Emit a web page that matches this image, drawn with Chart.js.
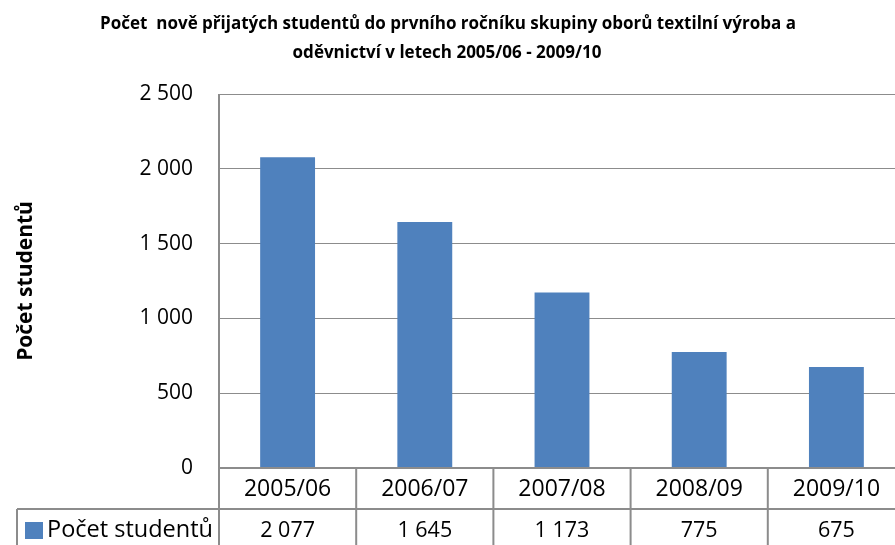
<!DOCTYPE html>
<html>
<head>
<meta charset="utf-8">
<script src="https://cdn.jsdelivr.net/npm/chart.js@4/dist/chart.umd.min.js"></script>
<style>
  html, body { margin: 0; padding: 0; background: #fff; overflow: hidden; }
</style>
</head>
<body>
<canvas id="chart" width="905" height="545"></canvas>
<script>
// ── Data ──────────────────────────────────────────────────────
const years       = ["2005/06", "2006/07", "2007/08", "2008/09", "2009/10"];
const students    = [2077, 1645, 1173, 775, 675];
const seriesName  = "Počet studentů";
const titleLines  = [
  "Počet  nově přijatých studentů do prvního ročníku skupiny oborů textilní výroba a",
  "oděvnictví v letech 2005/06 - 2009/10",
];
const axisTitle   = "Počet studentů";

const FONT     = "'Open Sans', 'Noto Sans', sans-serif";
const BAR_BLUE = "#4f81bd";
const LINE     = "#8c8c8c";

// "2500" -> "2 500"
const fmt = (v) => String(v).replace(/\B(?=(\d{3})+(?!\d))/g, " ");

// ── Title, axis title and data table under the plot ──────────
const tablePlugin = {
  id: "tablePlugin",
  afterDraw(chart) {
    const { ctx, chartArea } = chart;
    const x = chart.scales.x;
    const half = (x.getPixelForValue(1) - x.getPixelForValue(0)) / 2;
    const top = chartArea.bottom;
    const rowH = 41;
    const legendLeft = 17;

    ctx.save();

    // title
    ctx.fillStyle = "#000";
    ctx.font = `bold 17px ${FONT}`;
    ctx.textAlign = "center";
    ctx.textBaseline = "alphabetic";
    ctx.fillText(titleLines[0], 448, 29);
    ctx.fillText(titleLines[1], 447, 58);

    // y axis title
    ctx.textBaseline = "middle";
    ctx.save();
    ctx.translate(26, (chartArea.top + chartArea.bottom) / 2);
    ctx.rotate(-Math.PI / 2);
    ctx.font = `bold 21px ${FONT}`;
    ctx.fillText(axisTitle, 0, 0);
    ctx.restore();

    // table lines
    ctx.strokeStyle = LINE;
    ctx.lineWidth = 2;
    ctx.beginPath();
    ctx.moveTo(chartArea.left, top);
    ctx.lineTo(chartArea.right, top);
    ctx.moveTo(legendLeft, top + rowH);
    ctx.lineTo(chartArea.right, top + rowH);
    ctx.moveTo(legendLeft, top + rowH);
    ctx.lineTo(legendLeft, top + 2 * rowH);
    ctx.moveTo(chartArea.left, chartArea.top);
    ctx.lineTo(chartArea.left, top + 2 * rowH);
    years.forEach((_, i) => {
      const r = x.getPixelForValue(i) + half;
      ctx.moveTo(r, top);
      ctx.lineTo(r, top + 2 * rowH);
    });
    ctx.stroke();

    // category labels and values
    ctx.fillStyle = "#000";
    years.forEach((y, i) => {
      const cx = x.getPixelForValue(i);
      ctx.font = `23px ${FONT}`;
      ctx.fillText(y, cx, top + rowH / 2 + 1);
      ctx.font = `21.5px ${FONT}`;
      ctx.fillText(fmt(students[i]), cx, top + rowH * 1.5 + 1);
    });

    // legend cell
    ctx.fillStyle = BAR_BLUE;
    ctx.fillRect(25, top + rowH + 13, 18, 17);
    ctx.fillStyle = "#000";
    ctx.textAlign = "left";
    ctx.font = `23.5px ${FONT}`;
    ctx.fillText(seriesName, 47, top + rowH * 1.5 + 1);

    ctx.restore();
  },
};

new Chart(document.getElementById("chart"), {
  type: "bar",
  data: {
    labels: years,
    datasets: [{
      label: seriesName,
      data: students,
      backgroundColor: BAR_BLUE,
      borderWidth: 0,
      categoryPercentage: 1,
      barPercentage: 0.4,
    }],
  },
  options: {
    responsive: false,
    animation: false,
    layout: { padding: { left: 0, right: 0, top: 94, bottom: 77 } },
    plugins: {
      legend: { display: false },
      tooltip: { enabled: false },
      title: { display: false },
    },
    scales: {
      x: { display: false },
      y: {
        min: 0,
        max: 2500,
        afterFit: (scale) => { scale.width = 219; },
        ticks: {
          stepSize: 500,
          padding: 26,
          color: "#000",
          font: { size: 21, family: FONT },
          callback: (v) => fmt(v),
        },
        grid: { color: LINE, lineWidth: 1, drawTicks: false },
        border: { display: false },
      },
    },
  },
  plugins: [tablePlugin],
});
</script>
</body>
</html>
